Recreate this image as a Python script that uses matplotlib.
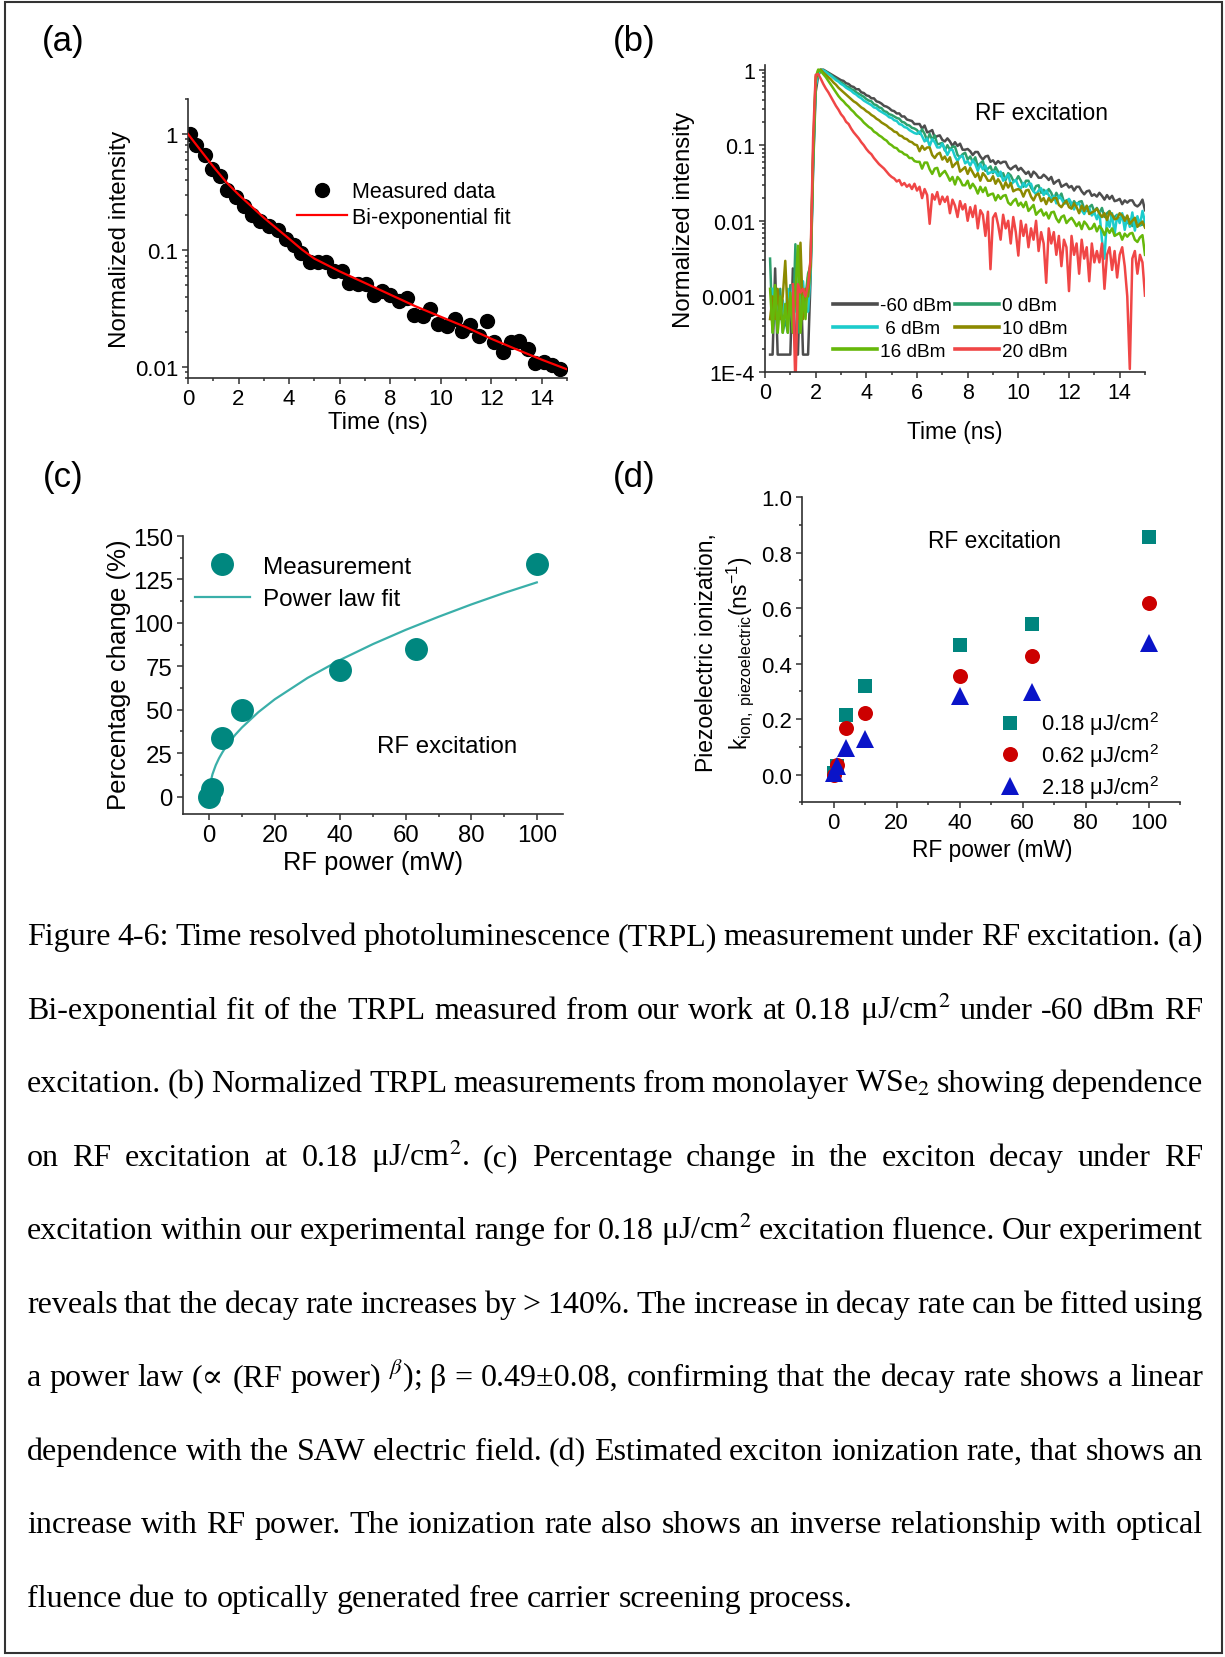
import numpy as np
import matplotlib
matplotlib.use('Agg')
import matplotlib.pyplot as plt
from matplotlib.ticker import MultipleLocator, FixedLocator, LogLocator, NullFormatter, FixedFormatter, FormatStrFormatter
from matplotlib.lines import Line2D
from matplotlib.patches import Rectangle

plt.rcParams['font.family'] = ['Liberation Sans', 'DejaVu Sans']
plt.rcParams['mathtext.fontset'] = 'custom'
plt.rcParams['mathtext.rm'] = 'Liberation Sans'
plt.rcParams['mathtext.it'] = 'Liberation Sans:italic'
plt.rcParams['mathtext.bf'] = 'Liberation Sans:bold'

# ---------------- data: panel (a) ----------------
t_a = [0.07, 0.33, 0.66, 0.94, 1.28, 1.55, 1.91, 2.20, 2.53, 2.86,
       3.20, 3.56, 3.86, 4.18, 4.48, 4.81, 5.14, 5.47, 5.77, 6.09,
       6.39, 6.72, 7.05, 7.35, 7.68, 8.01, 8.34, 8.66, 8.96, 9.29,
       9.58, 9.88, 10.24, 10.57, 10.84, 11.17, 11.50, 11.82, 12.12, 12.45,
       12.78, 13.11, 13.44, 13.74, 14.07, 14.39, 14.72]
I_a = [1.00, 0.81, 0.66, 0.50, 0.44, 0.33, 0.29, 0.24, 0.20, 0.178,
       0.162, 0.151, 0.126, 0.112, 0.095, 0.079, 0.079, 0.079, 0.066, 0.066,
       0.052, 0.051, 0.051, 0.041, 0.045, 0.041, 0.037, 0.039, 0.028, 0.0275,
       0.0316, 0.0234, 0.0224, 0.0257, 0.0204, 0.0229, 0.0182, 0.0245, 0.0162, 0.0135,
       0.0162, 0.0166, 0.0141, 0.0107, 0.0110, 0.0104, 0.0096]
t_fit_a = [0, 0.5, 1, 1.5, 2, 2.5, 3, 3.5, 4, 4.5, 5, 6, 7, 8, 9, 10, 11, 12, 13, 14, 15]
I_fit_a = [1.0, 0.724, 0.525, 0.389, 0.302, 0.240, 0.191, 0.155, 0.126, 0.102, 0.085,
           0.066, 0.0525, 0.0417, 0.0331, 0.0269, 0.0219, 0.0174, 0.0141, 0.0115, 0.0095]

# ---------------- data: panel (b) (log10 of normalized intensity, 0.1 ns steps, 0.1..15.0 ns) ----------------
t_b = np.arange(1, 151) / 10.0
nan = np.nan
logI_m60dBm = [
    nan, -3.77, -3.77, -2.63, -3.77, -3.77, -3.77, -3.77, -3.77, -3.77,
    -2.63, -3.77, -3.77, -2.63, -3.77, -3.77, -3.77, -2.75, -1.30, -0.30,
    -0.08, -0.01, 0.00, -0.02, -0.04, -0.06, -0.08, -0.10, -0.12, -0.14,
    -0.15, -0.18, -0.19, -0.22, -0.23, -0.26, -0.26, -0.30, -0.31, -0.34,
    -0.35, -0.38, -0.38, -0.42, -0.43, -0.45, -0.48, -0.49, -0.51, -0.54,
    -0.55, -0.58, -0.58, -0.62, -0.62, -0.66, -0.67, -0.68, -0.72, -0.72,
    -0.72, -0.78, -0.74, -0.83, -0.82, -0.80, -0.90, -0.88, -0.87, -0.93,
    -0.95, -0.91, -0.95, -1.01, -0.96, -1.01, -0.98, -1.06, -1.06, -1.05,
    -1.08, -1.13, -1.09, -1.09, -1.15, -1.19, -1.15, -1.14, -1.22, -1.20,
    -1.25, -1.21, -1.24, -1.22, -1.22, -1.29, -1.32, -1.29, -1.27, -1.33,
    -1.30, -1.34, -1.38, -1.35, -1.42, -1.35, -1.38, -1.43, -1.43, -1.39,
    -1.42, -1.46, -1.42, -1.51, -1.48, -1.46, -1.55, -1.53, -1.51, -1.56,
    -1.54, -1.60, -1.55, -1.55, -1.61, -1.65, -1.61, -1.60, -1.67, -1.65,
    -1.68, -1.63, -1.67, -1.72, -1.66, -1.71, -1.67, -1.74, -1.73, -1.71,
    -1.78, -1.73, -1.76, -1.73, -1.73, -1.79, -1.81, -1.78, -1.72, -1.86]
logI_0dBm = [
    nan, -2.50, -3.48, -3.00, -3.48, -2.90, -3.48, -3.30, -3.48, -2.85,
    -3.48, -2.31, -3.48, -2.70, -3.20, -3.00, -2.70, -2.60, -1.20, -0.20,
    -0.05, 0.00, -0.01, -0.03, -0.05, -0.07, -0.10, -0.12, -0.15, -0.17,
    -0.19, -0.22, -0.23, -0.26, -0.27, -0.30, -0.32, -0.34, -0.36, -0.39,
    -0.41, -0.42, -0.46, -0.47, -0.50, -0.51, -0.55, -0.56, -0.59, -0.60,
    -0.62, -0.64, -0.65, -0.69, -0.70, -0.73, -0.74, -0.77, -0.78, -0.80,
    -0.85, -0.79, -0.85, -0.94, -0.85, -0.93, -0.87, -0.99, -0.98, -0.97,
    -1.07, -1.00, -1.06, -1.02, -1.02, -1.13, -1.16, -1.12, -1.10, -1.19,
    -1.15, -1.22, -1.16, -1.28, -1.24, -1.21, -1.34, -1.31, -1.28, -1.37,
    -1.29, -1.35, -1.41, -1.37, -1.46, -1.37, -1.40, -1.47, -1.47, -1.41,
    -1.47, -1.55, -1.47, -1.47, -1.56, -1.61, -1.54, -1.53, -1.63, -1.59,
    -1.64, -1.58, -1.63, -1.72, -1.63, -1.70, -1.64, -1.75, -1.73, -1.72,
    -1.81, -1.74, -1.79, -1.75, -1.74, -1.84, -1.87, -1.82, -1.79, -1.88,
    -1.83, -1.90, -1.83, -1.95, -1.90, -1.87, -1.99, -1.95, -1.92, -2.00,
    -1.92, -1.97, -2.03, -1.98, -2.07, -1.97, -2.00, -2.06, -2.05, -1.99]
logI_6dBm = [
    nan, nan, -2.90, -3.30, -2.95, -3.30, -3.05, -3.30, -2.90, -3.20,
    -2.85, -3.20, -2.95, -3.20, -2.80, -3.20, -3.20, -2.70, -1.25, -0.22,
    -0.06, 0.00, -0.01, -0.03, -0.06, -0.08, -0.11, -0.14, -0.16, -0.19,
    -0.21, -0.24, -0.26, -0.28, -0.31, -0.33, -0.36, -0.38, -0.41, -0.43,
    -0.45, -0.47, -0.50, -0.51, -0.54, -0.56, -0.58, -0.60, -0.63, -0.64,
    -0.67, -0.68, -0.72, -0.73, -0.76, -0.77, -0.80, -0.82, -0.84, -0.85,
    -0.82, -0.88, -0.95, -0.91, -1.01, -0.92, -0.96, -1.03, -1.03, -0.98,
    -1.05, -1.13, -1.06, -1.06, -1.15, -1.21, -1.15, -1.14, -1.24, -1.21,
    -1.27, -1.20, -1.25, -1.34, -1.25, -1.32, -1.27, -1.38, -1.36, -1.35,
    -1.35, -1.41, -1.35, -1.47, -1.43, -1.39, -1.52, -1.49, -1.46, -1.54,
    -1.57, -1.50, -1.55, -1.51, -1.51, -1.61, -1.65, -1.60, -1.57, -1.66,
    -1.60, -1.66, -1.72, -1.67, -1.77, -1.67, -1.71, -1.77, -1.77, -1.71,
    -1.77, -1.85, -1.77, -1.77, -1.86, -1.91, -1.84, -1.83, -1.93, -1.89,
    -1.98, -1.88, -2.25, -2.50, -1.96, -2.08, -1.90, -2.18, -1.93, -2.03,
    -1.90, -2.12, -1.95, -2.08, -1.89, -2.13, -1.94, -2.06, -1.87, -2.02]
logI_10dBm = [
    nan, -3.30, -3.00, -3.30, -2.90, -3.30, -3.00, -2.53, -3.30, -3.00,
    -3.30, -2.90, -3.30, -2.29, -3.30, -2.90, -3.00, -2.60, -1.15, -0.15,
    -0.01, 0.00, -0.04, -0.07, -0.10, -0.13, -0.17, -0.20, -0.24, -0.27,
    -0.30, -0.33, -0.36, -0.39, -0.42, -0.44, -0.47, -0.50, -0.52, -0.55,
    -0.57, -0.60, -0.62, -0.65, -0.67, -0.70, -0.72, -0.74, -0.77, -0.79,
    -0.82, -0.83, -0.87, -0.88, -0.91, -0.92, -0.95, -0.96, -0.99, -1.00,
    -1.08, -1.01, -1.06, -1.03, -1.03, -1.13, -1.17, -1.12, -1.10, -1.19,
    -1.15, -1.22, -1.16, -1.29, -1.25, -1.22, -1.35, -1.32, -1.29, -1.38,
    -1.30, -1.36, -1.42, -1.37, -1.47, -1.37, -1.41, -1.47, -1.47, -1.41,
    -1.51, -1.45, -1.50, -1.58, -1.49, -1.56, -1.50, -1.61, -1.59, -1.58,
    -1.60, -1.68, -1.60, -1.59, -1.68, -1.73, -1.66, -1.64, -1.74, -1.70,
    -1.78, -1.70, -1.75, -1.70, -1.70, -1.79, -1.82, -1.77, -1.74, -1.82,
    -1.84, -1.77, -1.82, -1.90, -1.80, -1.87, -1.80, -1.91, -1.89, -1.87,
    -1.84, -1.90, -1.95, -1.90, -1.99, -1.88, -1.92, -1.98, -1.97, -1.90,
    -1.93, -2.00, -1.93, -2.04, -2.00, -1.96, -2.08, -2.04, -2.01, -2.09]
logI_16dBm = [
    nan, -2.90, -3.48, -2.85, -3.48, -3.00, -3.48, -3.10, -3.48, -2.95,
    -3.48, -2.95, -2.33, -3.48, -3.00, -3.30, -2.75, -2.55, -1.10, -0.10,
    0.00, -0.02, -0.06, -0.10, -0.15, -0.20, -0.25, -0.30, -0.35, -0.39,
    -0.42, -0.46, -0.49, -0.53, -0.56, -0.60, -0.63, -0.66, -0.70, -0.73,
    -0.76, -0.78, -0.82, -0.84, -0.87, -0.89, -0.92, -0.94, -0.98, -1.00,
    -1.03, -1.04, -1.08, -1.09, -1.12, -1.13, -1.17, -1.17, -1.21, -1.22,
    -1.22, -1.31, -1.23, -1.23, -1.32, -1.38, -1.31, -1.30, -1.41, -1.37,
    -1.34, -1.40, -1.47, -1.42, -1.52, -1.42, -1.46, -1.53, -1.53, -1.47,
    -1.57, -1.51, -1.56, -1.64, -1.55, -1.62, -1.56, -1.67, -1.65, -1.64,
    -1.73, -1.66, -1.71, -1.67, -1.66, -1.76, -1.79, -1.74, -1.71, -1.80,
    -1.76, -1.82, -1.75, -1.87, -1.83, -1.79, -1.92, -1.88, -1.85, -1.93,
    -1.89, -1.97, -1.89, -1.88, -1.97, -2.02, -1.95, -1.93, -2.03, -1.99,
    -1.96, -2.01, -2.07, -2.02, -2.11, -2.01, -2.05, -2.11, -2.10, -2.04,
    -2.14, -2.07, -2.11, -2.19, -2.10, -2.16, -2.10, -2.20, -2.18, -2.16,
    -2.25, -2.17, -2.21, -2.17, -2.16, -2.25, -2.28, -2.22, -2.19, -2.45]
logI_20dBm = [
    nan, nan, nan, nan, nan, nan, nan, nan, nan, nan,
    -2.84, -4.20, -2.84, -2.95, -2.90, -3.00, -2.85, -2.50, -0.90, -0.07,
    -0.06, -0.12, -0.19, -0.25, -0.30, -0.36, -0.42, -0.48, -0.53, -0.59,
    -0.63, -0.69, -0.72, -0.78, -0.83, -0.87, -0.91, -0.96, -1.00, -1.05,
    -1.09, -1.12, -1.17, -1.21, -1.25, -1.28, -1.31, -1.35, -1.39, -1.42,
    -1.44, -1.48, -1.46, -1.53, -1.50, -1.55, -1.52, -1.58, -1.51, -1.60,
    -1.55, -1.70, -1.58, -1.66, -2.04, -1.65, -1.72, -1.62, -1.78, -1.68,
    -1.75, -1.68, -1.90, -1.72, -1.80, -1.95, -1.74, -1.85, -1.78, -2.00,
    -1.82, -1.95, -1.80, -2.10, -1.86, -1.92, -2.20, -1.88, -2.64, -1.96,
    -1.90, -2.05, -2.25, -1.92, -2.10, -2.00, -2.30, -1.95, -2.15, -2.46,
    -2.00, -2.20, -2.05, -2.35, -2.10, -2.25, -2.00, -2.40, -2.15, -2.30,
    -2.82, -2.10, -2.30, -2.15, -2.45, -2.20, -2.60, -2.25, -2.35, -2.93,
    -2.20, -2.45, -2.30, -2.70, -2.25, -2.50, -2.35, -2.80, -2.30, -2.55,
    -2.40, -2.55, -2.30, -2.90, -2.45, -2.35, -2.65, -2.40, -2.75, -2.45,
    -2.35, -2.60, -3.00, -3.96, -2.50, -2.40, -2.70, -2.45, -2.55, -2.99]

# ---------------- data: panel (c) ----------------
P_c = [0, 1, 4, 10, 40, 63, 100]
pct_c = [0, 4.5, 34, 50, 73, 85, 134]
P_fit_c = [0.5, 1, 2, 3, 4, 5, 6, 8, 10, 15, 20, 30, 40, 50, 60, 70, 80, 90, 100]
pct_fit_c = [9.0, 12.9, 18.1, 22.1, 25.4, 28.4, 31.0, 35.7, 39.8, 48.6, 56.0, 68.3,
             78.7, 87.8, 96.0, 103.5, 110.6, 117.2, 123.3]

# ---------------- data: panel (d) ----------------
P_d = [0, 1, 4, 10, 40, 63, 100]
k_018 = [0.005, 0.03, 0.216, 0.318, 0.466, 0.543, 0.856]
k_062 = [0.0, 0.036, 0.168, 0.222, 0.354, 0.426, 0.618]
k_218 = [0.006, 0.03, 0.096, 0.13, 0.282, 0.298, 0.474]

caption_lines = [
    "Figure 4-6: Time resolved photoluminescence (TRPL) measurement under RF excitation. (a)",
    "Bi-exponential fit of the TRPL measured from our work at 0.18 \u03bcJ/cm$^2$ under -60 dBm RF",
    "excitation. (b) Normalized TRPL measurements from monolayer WSe$_2$ showing dependence",
    "on RF excitation at 0.18 \u03bcJ/cm$^2$. (c) Percentage change in the exciton decay under RF",
    "excitation within our experimental range for 0.18 \u03bcJ/cm$^2$ excitation fluence. Our experiment",
    "reveals that the decay rate increases by > 140%. The increase in decay rate can be fitted using",
    "a power law (\u221d (RF power) $^{\\beta}$); \u03b2 = 0.49\u00b10.08, confirming that the decay rate shows a linear",
    "dependence with the SAW electric field. (d) Estimated exciton ionization rate, that shows an",
    "increase with RF power. The ionization rate also shows an inverse relationship with optical",
    "fluence due to optically generated free carrier screening process.",
]

# ---------------- layout helpers ----------------
W, H = 1225, 1658
fig = plt.figure(figsize=(W / 100, H / 100), dpi=100)
fig.patch.set_facecolor('white')


def fx(px):
    return px / W


def fy(py):
    return 1 - py / H


def make_ax(l, r, t, b):
    ax = fig.add_axes([fx(l), fy(b), (r - l) / W, (b - t) / H])
    for s in ['top', 'right']:
        ax.spines[s].set_visible(False)
    for s in ['left', 'bottom']:
        ax.spines[s].set_color('#303030')
        ax.spines[s].set_linewidth(1.2)
    ax.tick_params(which='both', direction='out', color='#303030', width=1.1)
    ax.tick_params(which='major', length=4.2)
    ax.tick_params(which='minor', length=2.4)
    ax.patch.set_alpha(0)
    return ax


# ================= panel (a) =================
axa = make_ax(188, 567, 100, 379)
axa.set_yscale('log')
axa.set_xlim(0, 15)
axa.set_ylim(0.008, 2.0)
axa.plot(t_a, I_a, 'o', color='black', ms=10, zorder=2, label='Measured data')
axa.plot(t_fit_a, I_fit_a, '-', color='#ff0000', lw=1.6, zorder=3, label='Bi-exponential fit')
axa.xaxis.set_major_locator(MultipleLocator(2))
axa.xaxis.set_minor_locator(MultipleLocator(1))
axa.yaxis.set_major_locator(FixedLocator([0.01, 0.1, 1]))
axa.yaxis.set_major_formatter(FixedFormatter(['0.01', '0.1', '1']))
axa.yaxis.set_minor_locator(LogLocator(base=10, subs=np.arange(2, 10), numticks=20))
axa.yaxis.set_minor_formatter(NullFormatter())
axa.tick_params(labelsize=16, pad=3)
axa.legend(loc='center left', bbox_to_anchor=(fx(296.7), fy(205.5)), bbox_transform=fig.transFigure,
           frameon=False, fontsize=15.5, handlelength=2.33, handletextpad=0.25, labelspacing=0.2,
           borderpad=0, borderaxespad=0, numpoints=1)
fig.text(fx(120), fy(239), 'Normalized intensity', rotation=90, ha='center', va='center', fontsize=17.4)
fig.text(fx(378), fy(423.5), 'Time (ns)', ha='center', va='center', fontsize=17.2)

# ================= panel (b) =================
axb = make_ax(765, 1145, 66, 373)
axb.set_yscale('log')
axb.set_xlim(0, 15)
axb.set_ylim(1e-4, 1.15)
series_b = [
    (logI_m60dBm, '#4d4d4d', '-60 dBm'),
    (logI_0dBm, '#2ea06c', '0 dBm'),
    (logI_6dBm, '#1ccccc', ' 6 dBm'),
    (logI_10dBm, '#8c8a00', '10 dBm'),
    (logI_16dBm, '#66b80a', '16 dBm'),
    (logI_20dBm, '#f04646', '20 dBm'),
]
handles_b = {}
for vals, col, lab in series_b:
    axb.plot(t_b, 10.0 ** np.array(vals), '-', color=col, lw=1.8)
    handles_b[lab] = Line2D([], [], color=col, lw=2.6)
axb.xaxis.set_major_locator(MultipleLocator(2))
axb.xaxis.set_minor_locator(MultipleLocator(1))
axb.yaxis.set_major_locator(FixedLocator([1e-4, 1e-3, 1e-2, 1e-1, 1]))
axb.yaxis.set_major_formatter(FixedFormatter(['1E-4', '0.001', '0.01', '0.1', '1']))
axb.yaxis.set_minor_locator(LogLocator(base=10, subs=np.arange(2, 10), numticks=30))
axb.yaxis.set_minor_formatter(NullFormatter())
axb.tick_params(labelsize=15.5, pad=3)
order = ['-60 dBm', ' 6 dBm', '16 dBm', '0 dBm', '10 dBm', '20 dBm']
axb.legend([handles_b[k] for k in order], order, ncol=2, loc='center left',
           bbox_to_anchor=(fx(833), fy(329.5)), bbox_transform=fig.transFigure,
           frameon=False, fontsize=13.7, handlelength=2.3, handletextpad=0.15,
           columnspacing=0.2, labelspacing=0.29, borderpad=0, borderaxespad=0)
fig.text(fx(975), fy(113.5), 'RF excitation', ha='left', va='center', fontsize=16.4)
fig.text(fx(683.7), fy(220), 'Normalized intensity', rotation=90, ha='center', va='center', fontsize=17.3)
fig.text(fx(955), fy(432), 'Time (ns)', ha='center', va='center', fontsize=16.5)

# ================= panel (c) =================
axc = make_ax(183, 563, 537, 815)
axc.set_xlim(-8, 108)
axc.set_ylim(-10, 150)
axc.plot(P_fit_c, pct_fit_c, '-', color='#3aafa9', lw=1.6, zorder=2, label='Power law fit')
axc.plot(P_c, pct_c, 'o', color='#00877f', ms=15.5, zorder=3, label='Measurement')
axc.xaxis.set_major_locator(MultipleLocator(20))
axc.xaxis.set_minor_locator(MultipleLocator(10))
axc.yaxis.set_major_locator(MultipleLocator(25))
axc.yaxis.set_minor_locator(MultipleLocator(12.5))
axc.tick_params(labelsize=17.3, pad=3)
hc, lc = axc.get_legend_handles_labels()
axc.legend([hc[1], hc[0]], [lc[1], lc[0]], loc='center left', bbox_to_anchor=(fx(195), fy(584)),
           bbox_transform=fig.transFigure, frameon=False, fontsize=17.5, handlelength=2.26,
           handletextpad=0.53, labelspacing=0.42, borderpad=0, borderaxespad=0, numpoints=1)
fig.text(fx(376.7), fy(747), 'RF excitation', ha='left', va='center', fontsize=17.3)
fig.text(fx(118.7), fy(675), 'Percentage change (%)', rotation=90, ha='center', va='center', fontsize=18.5)
fig.text(fx(373.3), fy(863.3), 'RF power (mW)', ha='center', va='center', fontsize=18.4)

# ================= panel (d) =================
axd = make_ax(802, 1180, 498.3, 803.3)
axd.set_xlim(-10, 110)
axd.set_ylim(-0.1, 1.0)
axd.plot(P_d, k_018, 's', color='#00857e', ms=9.5, mew=0, zorder=2, label='0.18 \u03bcJ/cm$^2$')
axd.plot(P_d, k_062, 'o', color='#cc0000', ms=10.8, mew=0, zorder=3, label='0.62 \u03bcJ/cm$^2$')
axd.plot(P_d, k_218, '^', color='#0a14c8', ms=12.5, mew=0, zorder=4, label='2.18 \u03bcJ/cm$^2$')
axd.xaxis.set_major_locator(MultipleLocator(20))
axd.xaxis.set_minor_locator(MultipleLocator(10))
axd.yaxis.set_major_locator(MultipleLocator(0.2))
axd.yaxis.set_minor_locator(MultipleLocator(0.1))
axd.yaxis.set_major_formatter(FormatStrFormatter('%.1f'))
axd.tick_params(labelsize=16, pad=3)
axd.legend(loc='center left', bbox_to_anchor=(fx(999), fy(756)), bbox_transform=fig.transFigure,
           frameon=False, fontsize=15.8, handlelength=1.0, handletextpad=0.9, labelspacing=0.17,
           borderpad=0, borderaxespad=0, numpoints=1)
fig.text(fx(927.6), fy(541.5), 'RF excitation', ha='left', va='center', fontsize=16.4)
fig.text(fx(706.5), fy(653), 'Piezoelectric ionization,', rotation=90, ha='center', va='center', fontsize=16.5)
fig.text(fx(740), fy(653), 'k$_{\\mathrm{ion,\\ piezoelectric}}$(ns$^{\\mathrm{-1}}$)', rotation=90,
         ha='center', va='center', fontsize=16.5)
fig.text(fx(992), fy(850), 'RF power (mW)', ha='center', va='center', fontsize=16.4)

# ================= panel labels =================
for lab, (px, py) in zip(['(a)', '(b)', '(c)', '(d)'], [(63, 42), (634, 42), (63, 478), (634, 478)]):
    fig.text(fx(px), fy(py), lab, ha='center', va='center', fontsize=25)

# ================= caption (justified) =================
cap_fs = 23.0
cap_family = ['Liberation Serif', 'DejaVu Serif']
x_left, x_right = 27, 1203
base0, dline = 945.3, 73.5
renderer = fig.canvas.get_renderer()
space_px = 0.25 * cap_fs * 100 / 72
for i, line in enumerate(caption_lines):
    words = line.split(' ')
    ybase = fy(base0 + i * dline)
    txts = [fig.text(0, ybase, w, fontsize=cap_fs, family=cap_family, math_fontfamily='stix',
                     ha='left', va='baseline', color='black') for w in words]
    widths = [t.get_window_extent(renderer=renderer).width for t in txts]
    if i == len(caption_lines) - 1:
        gap = space_px
    else:
        gap = (x_right - x_left - sum(widths)) / (len(words) - 1)
    x = x_left
    for t, wd in zip(txts, widths):
        t.set_x(fx(x))
        x += wd + gap

# ================= outer frame =================
fig.add_artist(Rectangle((fx(5), fy(1654)), (1222 - 5) / W, (1654 - 3) / H, transform=fig.transFigure,
                         fill=False, ec='#333333', lw=1.5))

fig.savefig('out.png', dpi=100)
